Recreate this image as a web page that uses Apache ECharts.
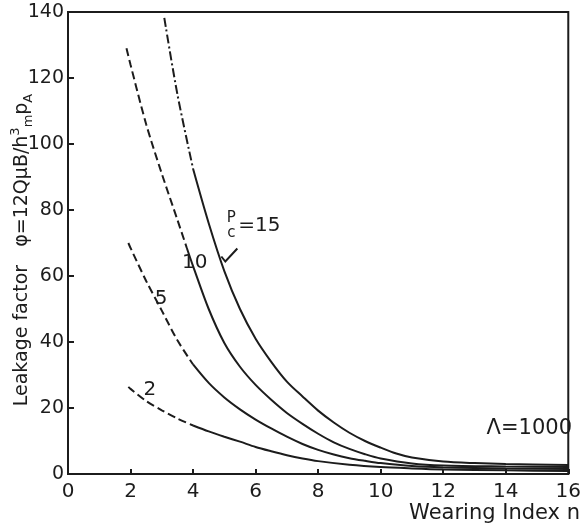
<!DOCTYPE html>
<html>
<head>
<meta charset="utf-8">
<script src="https://cdn.jsdelivr.net/npm/echarts@6/dist/echarts.min.js"></script>
<style>
html, body { margin: 0; padding: 0; background: #fff; }
#chart { width: 584px; height: 530px; }
</style>
</head>
<body>
<div id="chart"></div>
<script>
// x ticks and y ticks
var xTicks = [0, 2, 4, 6, 8, 10, 12, 14, 16];
var yTicks = [0, 20, 40, 60, 80, 100, 120, 140];

// curve 15 (dash-dot at top, solid below)
var c15Dashed = [[3.08, 138.2], [3.5, 115], [4.0, 92.5]];
var c15Solid = [[4.0, 92.5], [4.5, 76], [5.0, 61.5], [5.5, 50], [6.0, 41], [6.5, 34], [7.0, 28], [7.5, 23.5],
    [8.0, 19.2], [8.5, 15.6], [9.0, 12.5], [9.5, 10], [10, 8], [10.5, 6.2], [11, 5], [12, 3.8], [13, 3.3],
    [14, 3], [16, 2.7]];

// curve 10
var c10Dashed = [[1.87, 129], [2.0, 124], [2.5, 106], [3.0, 91], [3.5, 77], [3.8, 68.5]];
var c10Solid = [[3.8, 68.5], [4.0, 63], [4.5, 50], [5.0, 39.7], [5.5, 32.5], [6.0, 27], [6.5, 22.5],
    [7.0, 18.5], [7.5, 15.2], [8.0, 12.2], [8.5, 9.6], [9.0, 7.6], [9.5, 6], [10, 4.7], [11, 3.2],
    [12, 2.6], [14, 2.3], [16, 2.1]];

// curve 5
var c5Dashed = [[1.93, 70], [2.0, 68.5], [2.5, 58.5], [3.0, 49.5], [3.5, 40.5], [4.0, 33.2]];
var c5Solid = [[4.0, 33.2], [4.5, 27.6], [5.0, 23.2], [5.5, 19.6], [6.0, 16.5], [6.5, 13.8], [7.0, 11.3],
    [7.5, 9.1], [8.0, 7.3], [8.5, 5.9], [9.0, 4.8], [9.5, 4], [10, 3.3], [11, 2.4], [12, 2], [14, 1.7], [16, 1.5]];

// curve 2
var c2Dashed = [[1.93, 26.4], [2.0, 25.8], [2.5, 22.1], [3.0, 19.3], [3.5, 16.8], [4.0, 14.7]];
var c2Solid = [[4.0, 14.7], [4.5, 12.9], [5.0, 11.3], [5.5, 9.8], [6.0, 8.2], [6.5, 6.9], [7.0, 5.7],
    [7.5, 4.7], [8.0, 3.9], [9.0, 2.8], [10, 2.1], [11, 1.7], [12, 1.4], [14, 1.1], [16, 0.9]];

var ink = '#1c1c1c';
var font = 'DejaVu Sans';

var myChart = echarts.init(document.getElementById('chart'));

function line(name, data, type)
{
    return {
        name: name,
        type: 'line',
        data: data,
        smooth: 0.3,
        showSymbol: false,
        silent: true,
        lineStyle: { color: ink, width: 2, type: type }
    };
}

var option = {
    backgroundColor: '#fff',
    animation: false,
    grid: {
        left: 68, right: 2, top: 12, bottom: 56,
        show: true, borderColor: ink, borderWidth: 2
    },
    xAxis: {
        type: 'value',
        min: xTicks[0], max: xTicks[xTicks.length - 1], interval: 2,
        axisLine: { lineStyle: { color: ink, width: 2 } },
        axisTick: { inside: true, length: 5, lineStyle: { color: ink, width: 2 } },
        axisLabel: { color: ink, fontSize: 20, fontFamily: font, margin: 8 },
        splitLine: { show: false }
    },
    yAxis: {
        type: 'value',
        min: yTicks[0], max: yTicks[yTicks.length - 1], interval: 20,
        axisLine: { lineStyle: { color: ink, width: 2 } },
        axisTick: { inside: true, length: 6, lineStyle: { color: ink, width: 2 } },
        axisLabel: { color: ink, fontSize: 19, fontFamily: font, margin: 4 },
        splitLine: { show: false }
    },
    series: [
        line('15a', c15Dashed, [9, 3, 2, 3]),
        line('15b', c15Solid, 'solid'),
        line('10a', c10Dashed, [8, 4]),
        line('10b', c10Solid, 'solid'),
        line('5a', c5Dashed, [8, 4]),
        line('5b', c5Solid, 'solid'),
        line('2a', c2Dashed, [8, 4]),
        line('2b', c2Solid, 'solid')
    ]
};

myChart.setOption(option);

// curve labels placed at data positions
function px(x, y)
{
    return myChart.convertToPixel({ gridIndex: 0 }, [x, y]);
}

var txt = { fill: ink, fontSize: 20, fontFamily: font };
var p2 = px(2.62, 25.5), p5 = px(2.98, 53), p10 = px(4.05, 64), p15 = px(5.0, 75);

myChart.setOption({
    graphic: [
        { type: 'text', x: p2[0], y: p2[1], style: Object.assign({ text: '2', align: 'center', verticalAlign: 'middle' }, txt) },
        { type: 'text', x: p5[0], y: p5[1], style: Object.assign({ text: '5', align: 'center', verticalAlign: 'middle' }, txt) },
        { type: 'text', x: p10[0], y: p10[1], style: Object.assign({ text: '10', align: 'center', verticalAlign: 'middle' }, txt) },
        {
            type: 'text', x: p15[0] + 7, y: p15[1] - 8,
            style: { text: 'P', fill: ink, fontSize: 15, fontFamily: font, align: 'center', verticalAlign: 'middle' }
        },
        {
            type: 'text', x: p15[0] + 7, y: p15[1] + 7,
            style: { text: 'c', fill: ink, fontSize: 15, fontFamily: font, align: 'center', verticalAlign: 'middle' }
        },
        {
            type: 'text', x: p15[0] + 14, y: p15[1] - 1,
            style: { text: '=15', fill: ink, fontSize: 20, fontFamily: font, align: 'left', verticalAlign: 'middle' }
        },
        {
            type: 'polyline', silent: true,
            shape: { points: [[p15[0] - 3, p15[1] + 30], [p15[0] + 1, p15[1] + 35], [p15[0] + 13, p15[1] + 22]] },
            style: { stroke: ink, lineWidth: 2, fill: null }
        },
        {
            type: 'text', right: 12, top: 418,
            style: { text: 'Λ=1000', fill: ink, fontSize: 21, fontFamily: font }
        },
        {
            type: 'text', right: 4, top: 503,
            style: { text: 'Wearing Index n', fill: ink, fontSize: 21, fontFamily: font }
        },
        {
            type: 'text', x: 22, y: 250, rotation: Math.PI / 2,
            style: {
                text: '{m|Leakage factor   φ=12QμB/h}{sup|3}{sub|m}{m|p}{sub|A}',
                align: 'center', verticalAlign: 'middle',
                fill: ink,
                rich: {
                    m: { fontSize: 19, fontFamily: font, fill: ink, lineHeight: 26 },
                    sup: { fontSize: 13, fontFamily: font, fill: ink, verticalAlign: 'top', lineHeight: 26 },
                    sub: { fontSize: 13, fontFamily: font, fill: ink, verticalAlign: 'bottom', lineHeight: 26 }
                }
            }
        }
    ]
});
</script>
</body>
</html>
